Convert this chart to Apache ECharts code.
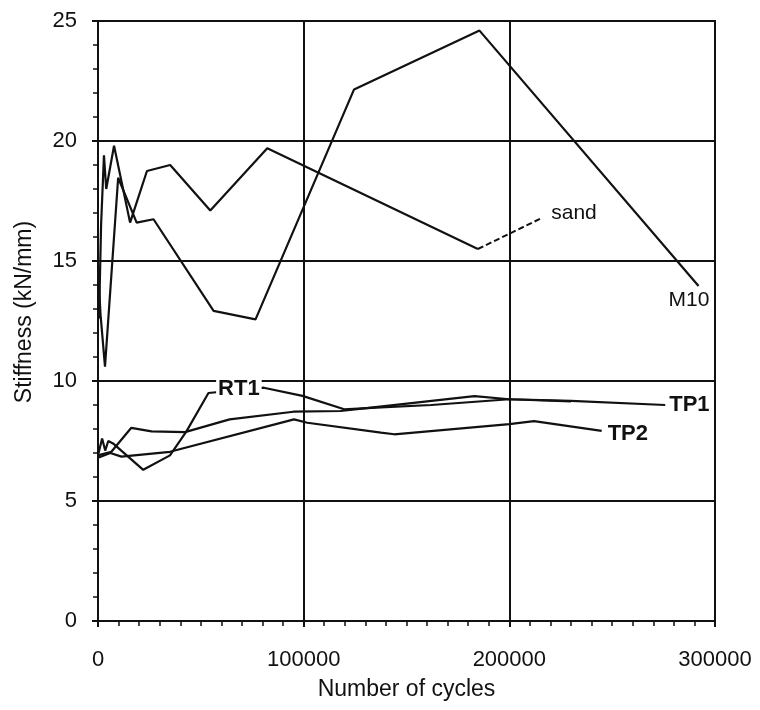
<!DOCTYPE html>
<html>
<head>
<meta charset="UTF-8">
<title>Stiffness vs cycles</title>
<script src="https://cdn.jsdelivr.net/npm/echarts@6/dist/echarts.min.js"></script>
<style>
  html, body { margin: 0; padding: 0; background: #fff; }
  #main { width: 760px; height: 710px; }
</style>
</head>
<body>
<div id="main"></div>
<script>
// values
var sandX = [500, 1500, 2900, 4000, 7800, 15600, 23800, 35100, 54600, 82300, 184700];
var sandY = [12.6, 16.5, 19.4, 18.0, 19.8, 16.6, 18.75, 19.0, 17.1, 19.7, 15.5];

var m10X = [0, 1200, 3400, 9800, 18800, 27000, 56200, 76600, 124500, 185500, 292000];
var m10Y = [14.8, 12.8, 10.6, 18.47, 16.6, 16.74, 12.92, 12.57, 22.15, 24.6, 13.96];

var rt1X = [0, 2000, 3500, 5000, 7300, 22000, 35000, 43000, 53700, 80600, 99400, 119700, 137600, 162000, 200000, 230000];
var rt1Y = [6.9, 7.6, 7.1, 7.5, 7.4, 6.3, 6.9, 7.9, 9.5, 9.72, 9.38, 8.82, 8.9, 9.0, 9.24, 9.15];

var tp1X = [0, 6500, 16200, 26000, 42300, 64000, 95000, 118000, 132700, 160000, 183000, 200000, 230000, 275800];
var tp1Y = [6.9, 7.05, 8.05, 7.9, 7.87, 8.4, 8.72, 8.75, 8.89, 9.15, 9.37, 9.24, 9.17, 9.0];

var tp2X = [0, 6000, 11400, 35000, 95300, 101800, 137600, 144000, 200000, 212000, 244900];
var tp2Y = [6.8, 7.0, 6.85, 7.05, 8.4, 8.26, 7.85, 7.78, 8.2, 8.33, 7.92];

var xTicks = [0, 100000, 200000, 300000];
var yTicks = [0, 5, 10, 15, 20, 25];

function pairs(xs, ys) {
  var out = [];
  for (var i = 0; i < xs.length; i++) out.push([xs[i], ys[i]]);
  return out;
}

var font = 'Liberation Sans';

function line(name, xs, ys, extra) {
  var s = {
    name: name,
    type: 'line',
    data: pairs(xs, ys),
    symbol: 'none',
    lineStyle: { color: '#111', width: 2.2 },
    z: 3
  };
  for (var k in extra) s[k] = extra[k];
  return s;
}

var chart = echarts.init(document.getElementById('main'));
chart.setOption({
  backgroundColor: '#fff',
  animation: false,
  grid: {
    left: 98, right: 45, top: 21, bottom: 89,
    show: true, borderColor: '#111', borderWidth: 2
  },
  xAxis: {
    type: 'value',
    min: xTicks[0], max: xTicks[xTicks.length - 1], interval: 100000,
    name: 'Number of cycles',
    nameLocation: 'middle', nameGap: 57,
    nameTextStyle: { fontFamily: font, fontSize: 23, color: '#111' },
    axisLine: { lineStyle: { color: '#111', width: 2 } },
    axisTick: { show: true, length: 6, lineStyle: { color: '#111', width: 2 } },
    minorTick: { show: true, splitNumber: 10, length: 5, lineStyle: { color: '#111', width: 1.5 } },
    axisLabel: { fontFamily: font, fontSize: 22, color: '#111', margin: 28,
                 formatter: function (v) { return String(v); } },
    splitLine: { show: true, lineStyle: { color: '#111', width: 2 } }
  },
  yAxis: {
    type: 'value',
    min: yTicks[0], max: yTicks[yTicks.length - 1], interval: 5,
    name: 'Stiffness (kN/mm)',
    nameLocation: 'middle', nameGap: 62,
    nameTextStyle: { fontFamily: font, fontSize: 23, color: '#111', padding: [0, 0, 0, 18] },
    axisLine: { lineStyle: { color: '#111', width: 2 } },
    axisTick: { show: true, length: 6, lineStyle: { color: '#111', width: 2 } },
    minorTick: { show: true, splitNumber: 5, length: 5, lineStyle: { color: '#111', width: 1.5 } },
    axisLabel: { fontFamily: font, fontSize: 22, color: '#111', margin: 21 },
    splitLine: { show: true, lineStyle: { color: '#111', width: 2 } }
  },
  series: [
    line('sand', sandX, sandY, {
      markLine: {
        silent: true, symbol: ['none', 'none'],
        lineStyle: { color: '#111', width: 2, type: [6, 3] },
        label: { show: true, position: 'end', formatter: 'sand', distance: 10,
                 fontFamily: font, fontSize: 21, color: '#111' },
        data: [[{ coord: [sandX[sandX.length - 1], sandY[sandY.length - 1]] },
                { coord: [216000, 16.8] }]]
      }
    }),
    line('M10', m10X, m10Y, {
      endLabel: { show: true, formatter: 'M10', offset: [-38, 14],
                  fontFamily: font, fontSize: 21, color: '#111' }
    }),
    line('RT1', rt1X, rt1Y, {
      markPoint: {
        silent: true, symbol: 'circle', symbolSize: 1,
        itemStyle: { color: 'rgba(0,0,0,0)' },
        label: { show: true, position: 'inside', formatter: 'RT1',
                 fontFamily: font, fontSize: 22, fontWeight: 'bold', color: '#111',
                 backgroundColor: '#fff', padding: [0, 2] },
        data: [{ coord: [68500, 9.65] }]
      }
    }),
    line('TP1', tp1X, tp1Y, {
      endLabel: { show: true, formatter: 'TP1', distance: 4,
                  fontFamily: font, fontSize: 22, fontWeight: 'bold', color: '#111' }
    }),
    line('TP2', tp2X, tp2Y, {
      endLabel: { show: true, formatter: 'TP2', distance: 6, offset: [0, 3],
                  fontFamily: font, fontSize: 22, fontWeight: 'bold', color: '#111' }
    })
  ]
});
</script>
</body>
</html>
